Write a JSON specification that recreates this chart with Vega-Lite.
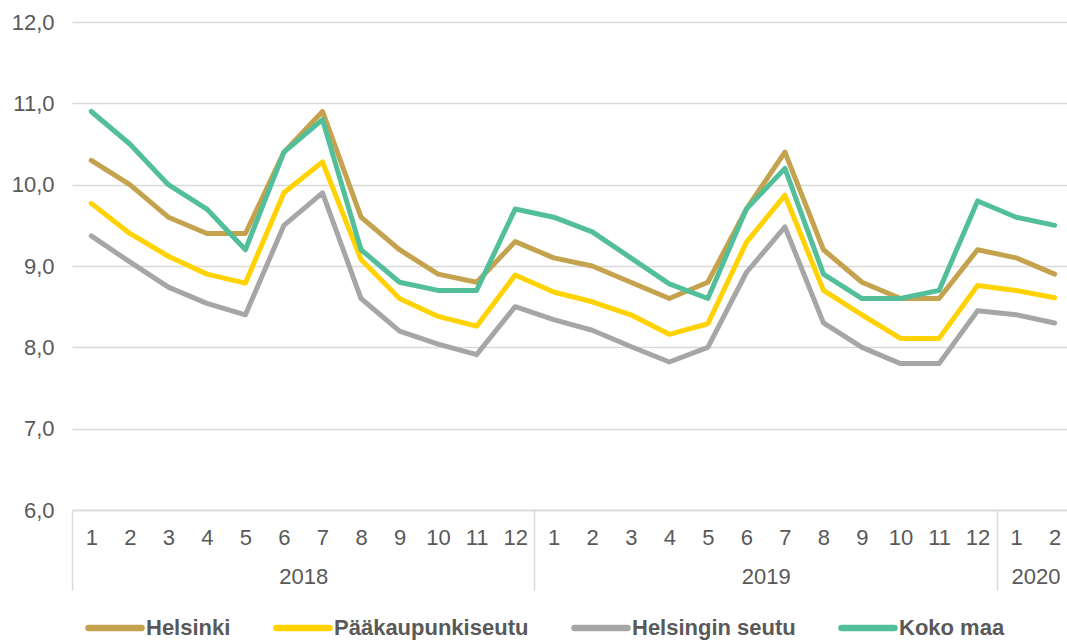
{
  "$schema": "https://vega.github.io/schema/vega-lite/v6.json",
  "autosize": {"type": "none"},
  "padding": {"left": 72, "top": 22, "right": 0, "bottom": 131},
  "width": 995,
  "height": 488,
  "background": "white",
  "config": {
    "view": {"stroke": null},
    "font": "Liberation Sans",
    "axis": {"labelFont": "Liberation Sans", "labelColor": "#595959", "labelFontSize": 22},
    "legend": {"labelFont": "Liberation Sans"}
  },
  "data": {
    "values": [
      {"t": 1, "s": "Helsinki", "v": 10.3}, {"t": 2, "s": "Helsinki", "v": 10.0}, {"t": 3, "s": "Helsinki", "v": 9.6}, {"t": 4, "s": "Helsinki", "v": 9.4}, {"t": 5, "s": "Helsinki", "v": 9.4}, {"t": 6, "s": "Helsinki", "v": 10.4}, {"t": 7, "s": "Helsinki", "v": 10.9}, {"t": 8, "s": "Helsinki", "v": 9.6}, {"t": 9, "s": "Helsinki", "v": 9.2}, {"t": 10, "s": "Helsinki", "v": 8.9}, {"t": 11, "s": "Helsinki", "v": 8.8}, {"t": 12, "s": "Helsinki", "v": 9.3},
      {"t": 13, "s": "Helsinki", "v": 9.1}, {"t": 14, "s": "Helsinki", "v": 9.0}, {"t": 15, "s": "Helsinki", "v": 8.8}, {"t": 16, "s": "Helsinki", "v": 8.6}, {"t": 17, "s": "Helsinki", "v": 8.8}, {"t": 18, "s": "Helsinki", "v": 9.7}, {"t": 19, "s": "Helsinki", "v": 10.4}, {"t": 20, "s": "Helsinki", "v": 9.2}, {"t": 21, "s": "Helsinki", "v": 8.8}, {"t": 22, "s": "Helsinki", "v": 8.6}, {"t": 23, "s": "Helsinki", "v": 8.6}, {"t": 24, "s": "Helsinki", "v": 9.2},
      {"t": 25, "s": "Helsinki", "v": 9.1}, {"t": 26, "s": "Helsinki", "v": 8.9},
      {"t": 1, "s": "Pääkaupunkiseutu", "v": 9.77}, {"t": 2, "s": "Pääkaupunkiseutu", "v": 9.4}, {"t": 3, "s": "Pääkaupunkiseutu", "v": 9.12}, {"t": 4, "s": "Pääkaupunkiseutu", "v": 8.9}, {"t": 5, "s": "Pääkaupunkiseutu", "v": 8.79}, {"t": 6, "s": "Pääkaupunkiseutu", "v": 9.9}, {"t": 7, "s": "Pääkaupunkiseutu", "v": 10.28}, {"t": 8, "s": "Pääkaupunkiseutu", "v": 9.08}, {"t": 9, "s": "Pääkaupunkiseutu", "v": 8.6}, {"t": 10, "s": "Pääkaupunkiseutu", "v": 8.38}, {"t": 11, "s": "Pääkaupunkiseutu", "v": 8.26}, {"t": 12, "s": "Pääkaupunkiseutu", "v": 8.89},
      {"t": 13, "s": "Pääkaupunkiseutu", "v": 8.68}, {"t": 14, "s": "Pääkaupunkiseutu", "v": 8.56}, {"t": 15, "s": "Pääkaupunkiseutu", "v": 8.4}, {"t": 16, "s": "Pääkaupunkiseutu", "v": 8.16}, {"t": 17, "s": "Pääkaupunkiseutu", "v": 8.29}, {"t": 18, "s": "Pääkaupunkiseutu", "v": 9.29}, {"t": 19, "s": "Pääkaupunkiseutu", "v": 9.87}, {"t": 20, "s": "Pääkaupunkiseutu", "v": 8.7}, {"t": 21, "s": "Pääkaupunkiseutu", "v": 8.4}, {"t": 22, "s": "Pääkaupunkiseutu", "v": 8.11}, {"t": 23, "s": "Pääkaupunkiseutu", "v": 8.11}, {"t": 24, "s": "Pääkaupunkiseutu", "v": 8.76},
      {"t": 25, "s": "Pääkaupunkiseutu", "v": 8.7}, {"t": 26, "s": "Pääkaupunkiseutu", "v": 8.61},
      {"t": 1, "s": "Helsingin seutu", "v": 9.37}, {"t": 2, "s": "Helsingin seutu", "v": 9.05}, {"t": 3, "s": "Helsingin seutu", "v": 8.74}, {"t": 4, "s": "Helsingin seutu", "v": 8.54}, {"t": 5, "s": "Helsingin seutu", "v": 8.4}, {"t": 6, "s": "Helsingin seutu", "v": 9.5}, {"t": 7, "s": "Helsingin seutu", "v": 9.9}, {"t": 8, "s": "Helsingin seutu", "v": 8.6}, {"t": 9, "s": "Helsingin seutu", "v": 8.2}, {"t": 10, "s": "Helsingin seutu", "v": 8.04}, {"t": 11, "s": "Helsingin seutu", "v": 7.91}, {"t": 12, "s": "Helsingin seutu", "v": 8.5},
      {"t": 13, "s": "Helsingin seutu", "v": 8.34}, {"t": 14, "s": "Helsingin seutu", "v": 8.21}, {"t": 15, "s": "Helsingin seutu", "v": 8.01}, {"t": 16, "s": "Helsingin seutu", "v": 7.82}, {"t": 17, "s": "Helsingin seutu", "v": 8.0}, {"t": 18, "s": "Helsingin seutu", "v": 8.92}, {"t": 19, "s": "Helsingin seutu", "v": 9.48}, {"t": 20, "s": "Helsingin seutu", "v": 8.3}, {"t": 21, "s": "Helsingin seutu", "v": 8.0}, {"t": 22, "s": "Helsingin seutu", "v": 7.8}, {"t": 23, "s": "Helsingin seutu", "v": 7.8}, {"t": 24, "s": "Helsingin seutu", "v": 8.45},
      {"t": 25, "s": "Helsingin seutu", "v": 8.4}, {"t": 26, "s": "Helsingin seutu", "v": 8.3},
      {"t": 1, "s": "Koko maa", "v": 10.9}, {"t": 2, "s": "Koko maa", "v": 10.5}, {"t": 3, "s": "Koko maa", "v": 10.0}, {"t": 4, "s": "Koko maa", "v": 9.7}, {"t": 5, "s": "Koko maa", "v": 9.2}, {"t": 6, "s": "Koko maa", "v": 10.4}, {"t": 7, "s": "Koko maa", "v": 10.8}, {"t": 8, "s": "Koko maa", "v": 9.2}, {"t": 9, "s": "Koko maa", "v": 8.8}, {"t": 10, "s": "Koko maa", "v": 8.7}, {"t": 11, "s": "Koko maa", "v": 8.7}, {"t": 12, "s": "Koko maa", "v": 9.7},
      {"t": 13, "s": "Koko maa", "v": 9.6}, {"t": 14, "s": "Koko maa", "v": 9.42}, {"t": 15, "s": "Koko maa", "v": 9.1}, {"t": 16, "s": "Koko maa", "v": 8.78}, {"t": 17, "s": "Koko maa", "v": 8.6}, {"t": 18, "s": "Koko maa", "v": 9.7}, {"t": 19, "s": "Koko maa", "v": 10.2}, {"t": 20, "s": "Koko maa", "v": 8.9}, {"t": 21, "s": "Koko maa", "v": 8.6}, {"t": 22, "s": "Koko maa", "v": 8.6}, {"t": 23, "s": "Koko maa", "v": 8.7}, {"t": 24, "s": "Koko maa", "v": 9.8},
      {"t": 25, "s": "Koko maa", "v": 9.6}, {"t": 26, "s": "Koko maa", "v": 9.5}
    ]
  },
  "encoding": {
    "y": {
      "field": "v", "type": "quantitative",
      "scale": {"domain": [6, 12], "nice": false, "zero": false},
      "axis": {
        "title": null, "values": [6, 7, 8, 9, 10, 11, 12],
        "labelExpr": "replace(format(datum.value, '.1f'), '.', ',')",
        "domain": false, "ticks": false, "labelPadding": 18,
        "grid": true, "gridColor": "#d9d9d9", "gridWidth": 1.5
      }
    },
    "color": {
      "field": "s", "type": "nominal",
      "scale": {
        "domain": ["Helsinki", "Pääkaupunkiseutu", "Helsingin seutu", "Koko maa"],
        "range": ["#C4A24E", "#FFD200", "#A6A6A6", "#52BF9A"]
      },
      "sort": ["Helsinki", "Pääkaupunkiseutu", "Helsingin seutu", "Koko maa"],
      "legend": {
        "title": null, "orient": "none", "direction": "horizontal",
        "legendX": 13, "legendY": 576,
        "symbolType": "stroke", "symbolSize": 2809, "symbolStrokeWidth": 6.5,
        "labelFontSize": 22, "labelFontWeight": "bold", "labelColor": "#595959",
        "labelOffset": 1, "columnPadding": 32, "symbolOffset": 0,
        "labelLimit": 400,
        "encode": {"symbols": {"update": {"strokeCap": {"value": "round"}}}}
      }
    }
  },
  "layer": [
    {
      "transform": [{"filter": "datum.s === 'Helsinki' || datum.s === 'Pääkaupunkiseutu'"}],
      "mark": {"type": "line", "strokeWidth": 5, "strokeJoin": "round", "strokeCap": "round"},
      "encoding": {
        "x": {
          "field": "t", "type": "quantitative",
          "scale": {"domain": [0.5, 26.32], "nice": false, "zero": false},
          "axis": {
            "title": null, "orient": "bottom",
            "values": [1, 2, 3, 4, 5, 6, 7, 8, 9, 10, 11, 12, 13, 14, 15, 16, 17, 18, 19, 20, 21, 22, 23, 24, 25, 26],
            "labelExpr": "datum.value <= 12 ? datum.value : (datum.value <= 24 ? datum.value - 12 : datum.value - 24)",
            "grid": false, "ticks": false, "domain": true, "domainColor": "#d9d9d9", "domainWidth": 1.5,
            "labelPadding": 17, "labelOverlap": false, "labelFlush": false
          }
        }
      }
    },
    {
      "transform": [{"filter": "datum.s === 'Helsingin seutu'"}],
      "mark": {"type": "line", "strokeWidth": 5, "strokeJoin": "round", "strokeCap": "round"},
      "encoding": {
        "x": {
          "field": "t", "type": "quantitative",
          "scale": {"domain": [0.5, 26.32], "nice": false, "zero": false},
          "axis": {
            "title": null, "orient": "bottom",
            "values": [6.5, 18.5, 25.5],
            "labelExpr": "datum.value < 12 ? '2018' : (datum.value < 24 ? '2019' : '2020')",
            "grid": false, "ticks": false, "domain": false,
            "labelPadding": 56, "labelOverlap": false, "labelFlush": false
          }
        }
      }
    },
    {
      "transform": [{"filter": "datum.s === 'Koko maa'"}],
      "mark": {"type": "line", "strokeWidth": 5, "strokeJoin": "round", "strokeCap": "round"},
      "encoding": {
        "x": {
          "field": "t", "type": "quantitative",
          "scale": {"domain": [0.5, 26.32], "nice": false, "zero": false},
          "axis": {
            "title": null, "orient": "bottom",
            "values": [0.5, 12.5, 24.5],
            "labels": false, "grid": false, "domain": false,
            "ticks": true, "tickSize": 80, "tickColor": "#d9d9d9", "tickWidth": 1.5
          }
        }
      }
    }
  ],
  "resolve": {"scale": {"x": "independent"}, "axis": {"x": "independent"}}
}
